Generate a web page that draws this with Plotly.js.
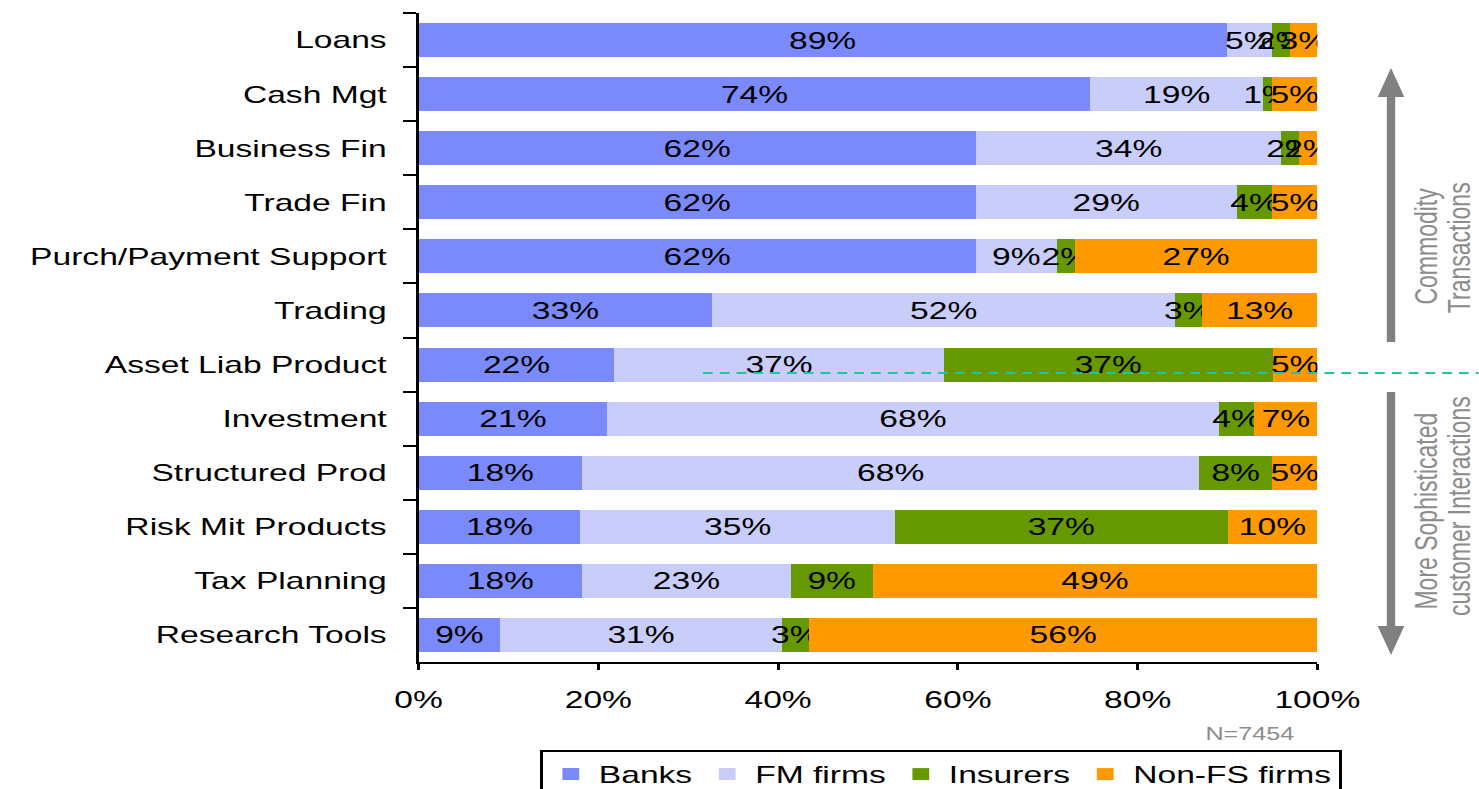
<!DOCTYPE html>
<html>
<head>
<meta charset="utf-8">
<script src="https://cdn.plot.ly/plotly-3.0.1.min.js"></script>
<style>
  html, body { margin: 0; padding: 0; background: #fff; overflow: hidden; }
  /* the chart is laid out narrow and widened horizontally */
  #chart { position: absolute; left: 0; top: 0; width: 1056px; height: 789px;
           transform: scaleX(1.4); transform-origin: 0 0; }
</style>
</head>
<body>
<div id="chart"></div>
<script>
// Share of each provider type, by product area
const categories = ['Loans', 'Cash Mgt', 'Business Fin', 'Trade Fin', 'Purch/Payment Support',
  'Trading', 'Asset Liab Product', 'Investment', 'Structured Prod', 'Risk Mit Products',
  'Tax Planning', 'Research Tools'];
const banks    = [89, 74, 62, 62, 62, 33, 22, 21, 18, 18, 18, 9];
const fmFirms  = [5, 19, 34, 29, 9, 52, 37, 68, 68, 35, 23, 31];
const insurers = [2, 1, 2, 4, 2, 3, 37, 4, 8, 37, 9, 3];
const nonFS    = [3, 5, 2, 5, 27, 13, 5, 7, 5, 10, 49, 56];
const seriesNames = ['Banks', 'FM firms', 'Insurers', 'Non-FS firms'];
const xTicks = [0, 20, 40, 60, 80, 100];

const colors = ['#7a8afa', '#c8cdfa', '#669900', '#ff9900'];
const FONT = 'Liberation Sans, Arial, sans-serif';

// layout geometry (inner, unscaled pixels)
const SX = 1.4, W = 1056, H = 789;
const M = { l: 299, r: 115, t: 13, b: 127, autoexpand: false };
const PW = W - M.l - M.r, PH = H - M.t - M.b;
const px = fx => (fx / SX - M.l) / PW;        // screen x -> paper x
const py = fy => (H - M.b - fy) / PH;         // screen y -> paper y

const traces = [banks, fmFirms, insurers, nonFS].map((vals, i) => ({
  type: 'bar',
  orientation: 'h',
  name: seriesNames[i],
  y: categories,
  x: vals,
  text: vals.map(v => v + '%'),
  textposition: 'inside',
  insidetextanchor: 'middle',
  constraintext: 'none',
  textangle: 0,
  textfont: { family: FONT, size: 24, color: '#000' },
  insidetextfont: { family: FONT, size: 24, color: '#000' },
  marker: { color: colors[i], line: { width: 0 } },
  hoverinfo: 'name+text'
}));

const grey = '#808080';
const ax = px(1391), hw = 9.5 / PW;  // arrow centre and half head width
const shapes = [
  // divider between commodity and sophisticated products
  { type: 'line', xref: 'paper', yref: 'paper', x0: px(703), x1: px(1479), y0: py(373), y1: py(373),
    line: { color: '#1dc8a0', width: 2.2, dash: '7px,5px' } },
  // upward arrow
  { type: 'line', xref: 'paper', yref: 'paper', x0: ax, x1: ax, y0: py(342), y1: py(95),
    line: { color: grey, width: 6 } },
  { type: 'path', xref: 'paper', yref: 'paper', fillcolor: grey, line: { width: 0 },
    path: `M${ax - hw},${py(97)} L${ax},${py(68)} L${ax + hw},${py(97)} Z` },
  // downward arrow
  { type: 'line', xref: 'paper', yref: 'paper', x0: ax, x1: ax, y0: py(392), y1: py(628),
    line: { color: grey, width: 6 } },
  { type: 'path', xref: 'paper', yref: 'paper', fillcolor: grey, line: { width: 0 },
    path: `M${ax - hw},${py(626)} L${ax},${py(655)} L${ax + hw},${py(626)} Z` }
];

const sideFont = { family: FONT, size: 23, color: '#8c8c8c' };
const side = (txt, fx, fy) => ({ text: txt, xref: 'paper', yref: 'paper', x: px(fx), y: py(fy),
  xanchor: 'center', yanchor: 'middle', textangle: -90, showarrow: false, font: sideFont });
const annotations = [
  side('Commodity', 1426, 246),
  side('Transactions', 1459, 248),
  side('More Sophisticated', 1426, 511),
  side('customer Interactions', 1459, 506),
  { text: 'N=7454', xref: 'paper', yref: 'paper', x: px(1298), y: py(734), xanchor: 'right',
    yanchor: 'middle', showarrow: false,
    font: { family: 'Liberation Sans Narrow, Liberation Sans, Arial, sans-serif', size: 18, color: '#8c8c8c' } }
];

const layout = {
  width: W, height: H,
  margin: M,
  paper_bgcolor: '#fff', plot_bgcolor: '#fff',
  barmode: 'stack', barnorm: 'percent', bargap: 0.37,
  font: { family: FONT, size: 24, color: '#000' },
  showlegend: true,
  legend: {
    orientation: 'h', x: px(540), y: py(750), xanchor: 'left', yanchor: 'top',
    bordercolor: '#000', borderwidth: 2, bgcolor: '#fff',
    font: { family: FONT, size: 24, color: '#000' }, traceorder: 'normal', itemclick: false
  },
  xaxis: {
    range: [0, 100], tickvals: xTicks, ticktext: xTicks.map(v => v + '%'),
    showgrid: false, zeroline: false, showline: true, linecolor: '#000', linewidth: 2,
    ticks: 'outside', ticklen: 6, tickwidth: 2, tickcolor: '#000', ticklabelstandoff: 9,
    tickfont: { family: FONT, size: 24, color: '#000' }, fixedrange: true
  },
  yaxis: {
    type: 'category', autorange: 'reversed',
    showgrid: false, zeroline: false, showline: true, linecolor: '#000', linewidth: 2,
    ticks: 'outside', tickson: 'boundaries', ticklen: 9, tickwidth: 2, tickcolor: '#000',
    ticklabelstandoff: 16,
    tickfont: { family: FONT, size: 24, color: '#000' }, fixedrange: true
  },
  shapes: shapes,
  annotations: annotations
};

Plotly.newPlot('chart', traces, layout, { displayModeBar: false, staticPlot: true });
</script>
</body>
</html>
